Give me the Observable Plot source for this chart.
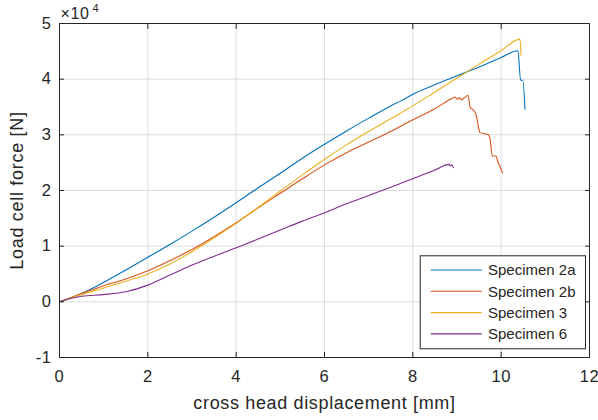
<!DOCTYPE html>
<html>
<head>
<meta charset="utf-8">
<script src="https://cdn.jsdelivr.net/npm/d3@7"></script>
<script src="https://cdn.jsdelivr.net/npm/@observablehq/plot@0.6"></script>
<style>
  html, body { margin: 0; padding: 0; background: #fff; }
  #chart { width: 598px; height: 420px; }
</style>
</head>
<body>
<div id="chart"></div>
<script>
// ---- data (displacement in mm, force in N) ----
const seriesNames = ["Specimen 2a", "Specimen 2b", "Specimen 3", "Specimen 6"];
const seriesColors = ["#0072BD", "#D95319", "#EDB120", "#7E2F8E"];

const x2a = [0, 0.25, 0.5, 1, 1.5, 2, 2.5, 3, 3.5, 4, 4.5, 5, 5.5, 6, 6.5, 7, 7.5, 7.73, 8, 8.5, 9, 9.5, 10, 10.38, 10.44, 10.49, 10.54];
const y2a = [0, 700, 1500, 3500, 5700, 8000, 10300, 12700, 15200, 17800, 20500, 23100, 25800, 28300, 30700, 33000, 35200, 36100, 37300, 39000, 40600, 42200, 43900, 45100, 39800, 39800, 34600];

const x2b = [0, 0.5, 1, 1.5, 2, 2.5, 3, 3.5, 4, 4.5, 5, 5.5, 6, 6.5, 7, 7.5, 8, 8.5, 8.9, 8.95, 9.01, 9.05, 9.09, 9.16, 9.25, 9.3, 9.35, 9.43, 9.46, 9.52, 9.61, 9.7, 9.75, 9.8, 9.88, 9.93, 9.97, 10.03];
const y2b = [0, 1500, 2900, 4100, 5570, 7400, 9400, 11700, 14200, 16900, 19500, 22100, 24600, 26800, 28700, 30600, 32700, 34700, 36600, 36800, 36400, 36700, 36300, 36600, 37100, 34900, 34600, 33700, 32500, 30400, 30200, 30100, 29200, 26200, 26200, 25000, 24400, 23200];

const x3 = [0, 0.5, 1, 1.5, 2, 2.5, 3, 3.5, 4, 4.5, 5, 5.5, 6, 6.5, 7, 7.5, 8, 8.5, 9, 9.5, 10, 10.42, 10.44, 10.45];
const y3 = [0, 1300, 2500, 3700, 5000, 6800, 9000, 11500, 14100, 17000, 19900, 22800, 25600, 28200, 30600, 32900, 35200, 37700, 40200, 42700, 45100, 47200, 46000, 44300];

const x6 = [0, 0.25, 0.5, 1, 1.5, 2, 2.5, 3, 3.5, 4, 4.5, 5, 5.5, 6, 6.5, 7, 7.5, 8, 8.5, 8.82, 8.85, 8.88, 8.92];
const y6 = [0, 600, 1000, 1300, 1800, 3000, 4800, 6600, 8200, 9700, 11300, 12900, 14500, 16000, 17600, 19100, 20600, 22100, 23700, 24700, 24400, 24600, 24100];

const xTicks = [0, 2, 4, 6, 8, 10, 12];
const yTicks = [-10000, 0, 10000, 20000, 30000, 40000, 50000];
const xLabel = "cross head displacement [mm]";
const yLabel = "Load cell force [N]";
const expBase = "\u00d710";
const expPower = "4";

// ---- build table ----
const xs = [x2a, x2b, x3, x6];
const ys = [y2a, y2b, y3, y6];
const rows = [];
seriesNames.forEach((name, i) => {
  xs[i].forEach((xv, j) => rows.push({series: name, x: xv, y: ys[i][j]}));
});

const W = 598, H = 420;
const mL = 59, mR = 9, mT = 23, mB = 63;
const axisColor = "#262626";
const fmtY = d => String(d / 1e4);

const plot = Plot.plot({
  width: W, height: H,
  marginLeft: mL, marginRight: mR, marginTop: mT, marginBottom: mB,
  style: {fontFamily: "'Liberation Sans', Arial, sans-serif", fontSize: "16.5px", color: axisColor, background: "#fff", letterSpacing: "0.6px"},
  x: {domain: [0, 12]},
  y: {domain: [-10000, 50000]},
  color: {domain: seriesNames, range: seriesColors},
  marks: [
    Plot.gridX(xTicks, {stroke: "#dcdcdc", strokeOpacity: 1}),
    Plot.gridY(yTicks, {stroke: "#dcdcdc", strokeOpacity: 1}),
    Plot.line(rows, {x: "x", y: "y", z: "series", stroke: "series", strokeWidth: 1.1, curve: "monotone-x"}),
    Plot.frame({stroke: axisColor, strokeWidth: 1}),
    // inward ticks on all four sides
    Plot.axisX(xTicks, {anchor: "bottom", tickSize: 5, dy: -5, fill: "none", stroke: axisColor, label: null}),
    Plot.axisX(xTicks, {anchor: "top", tickSize: 5, dy: 5, fill: "none", stroke: axisColor, label: null}),
    Plot.axisY(yTicks, {anchor: "left", tickSize: 5, dx: 5, fill: "none", stroke: axisColor, label: null}),
    Plot.axisY(yTicks, {anchor: "right", tickSize: 5, dx: -5, fill: "none", stroke: axisColor, label: null}),
    // tick labels
    Plot.axisX(xTicks, {anchor: "bottom", tickSize: 0, tickPadding: 13, fill: axisColor, label: null, tickFormat: d => String(d)}),
    Plot.axisY(yTicks, {anchor: "left", tickSize: 0, tickPadding: 8, fill: axisColor, label: null, tickFormat: fmtY}),
    // axis labels
    Plot.text([xLabel], {frameAnchor: "bottom", dy: 51, lineAnchor: "bottom", textAnchor: "middle", fontSize: 18, fill: axisColor, text: d => d}),
    Plot.text([yLabel], {frameAnchor: "left", dx: -36.5, rotate: -90, lineAnchor: "bottom", textAnchor: "middle", fontSize: 18, fill: axisColor, text: d => d}),
    // exponent
    Plot.text([expBase], {frameAnchor: "top-left", dx: 1, dy: -4.7, lineAnchor: "bottom", textAnchor: "start", fontSize: 16, fill: axisColor, text: d => d}),
    Plot.text([expPower], {frameAnchor: "top-left", dx: 33, dy: -11.3, lineAnchor: "bottom", textAnchor: "start", fontSize: 11, fill: axisColor, text: d => d})
  ]
});

document.getElementById("chart").appendChild(plot);

// letter spacing for the axis labels
const svg = d3.select(plot);
svg.selectAll("text").filter(function() { return this.textContent === yLabel; }).style("letter-spacing", "0.7px");
svg.selectAll("text").filter(function() { return this.textContent === xLabel; }).style("letter-spacing", "0.65px");

// ---- legend (placed relative to the frame) ----
const legW = 165.3, legH = 93;
const legX = W - mR - 4 - legW;
const legY = H - mB - 8.7 - legH;
const leg = svg.append("g").attr("class", "legend");
leg.append("rect")
  .attr("x", legX + 0.5).attr("y", legY + 0.5)
  .attr("width", legW).attr("height", legH)
  .attr("fill", "#fff").attr("stroke", axisColor).attr("stroke-width", 1);
seriesNames.forEach((name, i) => {
  const cy = legY + 14.7 + i * 21.3;
  leg.append("line")
    .attr("x1", legX + 11).attr("x2", legX + 62)
    .attr("y1", cy).attr("y2", cy)
    .attr("stroke", seriesColors[i]).attr("stroke-width", 1.1);
  leg.append("text")
    .attr("x", legX + 68.3).attr("y", cy).attr("dy", "0.35em")
    .attr("text-anchor", "start")
    .attr("fill", axisColor)
    .style("font-size", "15px").style("letter-spacing", "0px")
    .text(name);
});
</script>
</body>
</html>
